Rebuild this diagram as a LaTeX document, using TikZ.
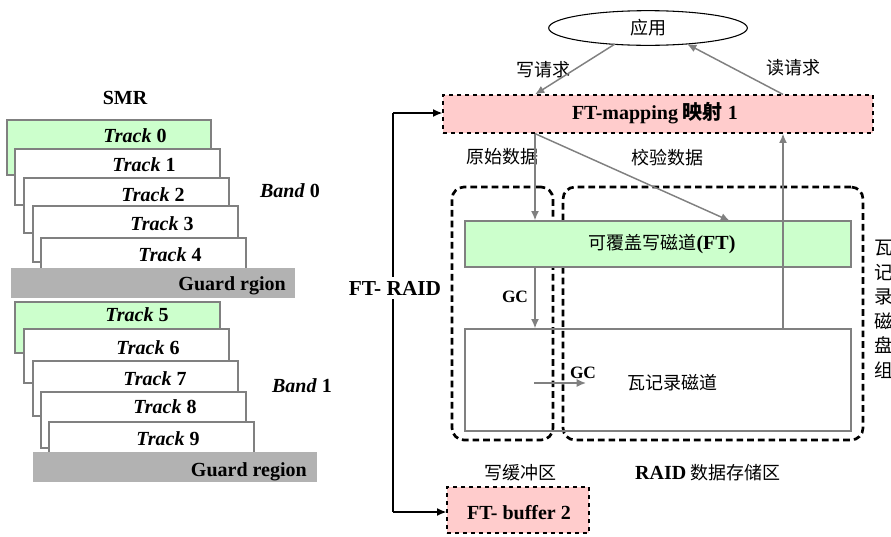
\documentclass[tikz,border=0pt]{standalone}
\usepackage{fontspec}
\setmainfont{Liberation Serif}
\newfontfamily\cjk{Noto Sans CJK SC}
\usetikzlibrary{arrows.meta,fit,shapes.geometric,calc}
\definecolor{tgreen}{HTML}{CCFFCC}
\definecolor{tpink}{HTML}{FFCCCC}
\definecolor{guardgray}{HTML}{B2B2B2}
\definecolor{lgray}{HTML}{808080}
\newcommand{\zh}[1]{{\cjk #1}}
\begin{document}
\begin{tikzpicture}[x=0.75pt,y=-0.75pt,
  trackbox/.style={draw=lgray,line width=1pt,fill=white,inner sep=0pt},
  greenbox/.style={trackbox,fill=tgreen},
  guardbox/.style={fill=guardgray,inner sep=0pt},
  lat/.style={font=\fontsize{15}{17}\selectfont\bfseries},
  tracktxt/.style={font=\fontsize{15}{17}\selectfont\bfseries,inner sep=0pt},
  zhtxt/.style={font=\fontsize{13.5}{15}\selectfont\cjk,inner sep=0pt},
  pinkbox/.style={draw=black,dashed,line width=0.9pt,fill=tpink,inner sep=0pt},
  zonebox/.style={draw=black,line width=2pt,dash pattern=on 5pt off 3pt,rounded corners=9pt,inner sep=0pt},
  garrow/.style={draw=lgray,line width=1.1pt,-{Latex[length=7pt,width=6pt]}},
  barrow/.style={draw=black,line width=1.1pt,-{Latex[length=7pt,width=6pt]}},
]
\useasboundingbox (0,0) rectangle (891,536);

% ---------------- SMR, band 0
\node[lat] (smr) at (125,98) {SMR};
\node[greenbox,fit={(7,120)(211,175)}] (t0) {};
\node[trackbox,fit={(15,149)(220,205)}] (t1) {};
\node[trackbox,fit={(24,178)(229,233)}] (t2) {};
\node[trackbox,fit={(33,206)(238,262)}] (t3) {};
\node[trackbox,fit={(41,238)(246,280)}] (t4) {};
\node[guardbox,fit={(11,268)(295,298)}] (g0) {};
\node[tracktxt] (l0) at (135,136) {\textit{Track} 0};
\node[tracktxt] (l1) at (144,165) {\textit{Track} 1};
\node[tracktxt] (l2) at (153,195) {\textit{Track} 2};
\node[tracktxt] (l3) at (162,224) {\textit{Track} 3};
\node[tracktxt] (l4) at (170,255) {\textit{Track} 4};
\node[tracktxt,anchor=east] (lg0) at (286,286) {Guard rgion};
\node[tracktxt] (b0) at (290,191) {\textit{Band} 0};

% ---------------- band 1
\node[greenbox,fit={(15,302)(220,353)}] (t5) {};
\node[trackbox,fit={(24,329)(229,383)}] (t6) {};
\node[trackbox,fit={(33,361)(238,416)}] (t7) {};
\node[trackbox,fit={(41,392)(246,448)}] (t8) {};
\node[trackbox,fit={(49,422)(254,462)}] (t9) {};
\node[guardbox,fit={(33,452)(317,482)}] (g1) {};
\node[tracktxt] (l5) at (137,315) {\textit{Track} 5};
\node[tracktxt] (l6) at (148,348) {\textit{Track} 6};
\node[tracktxt] (l7) at (155,379) {\textit{Track} 7};
\node[tracktxt] (l8) at (165,407) {\textit{Track} 8};
\node[tracktxt] (l9) at (168,439) {\textit{Track} 9};
\node[tracktxt,anchor=east] (lg1) at (307,472) {Guard region};
\node[tracktxt] (b1) at (302,386) {\textit{Band} 1};

% ---------------- right part
\node[draw=black,line width=0.8pt,ellipse,minimum width=149pt,minimum height=26pt,inner sep=0pt,zhtxt] (app) at (648,28) {应用};
\node[pinkbox,fit={(443,95)(873,133)}] (map) {};
\node[inner sep=0pt,font=\fontsize{15}{17}\selectfont\bfseries] (maptxt) at (655,113) {FT-mapping \zh{映射} 1};

\node[zonebox,fit={(452,187)(553,440)}] (wz) {};
\node[zonebox,fit={(563,187)(863,440)}] (rz) {};

\node[draw=lgray,line width=1pt,fill=tgreen,fit={(465,221)(851,267)},inner sep=0pt] (ft) {};
\node[zhtxt] (fttxt) at (662,244) {可覆盖写磁道\textbf{\rmfamily\fontsize{15}{17}\selectfont(FT)}};
\node[draw=lgray,line width=1pt,fill=none,fit={(465,329)(851,431)},inner sep=0pt] (sh) {};
\node[zhtxt] (shtxt) at (672,383) {瓦记录磁道};

\node[pinkbox,fit={(447,487)(589,533)}] (buf) {};
\node[tracktxt] (buftxt) at (519,513) {FT- buffer 2};

% labels
\node[zhtxt] (wreq) at (543,70) {写请求};
\node[zhtxt] (rreq) at (793,68) {读请求};
\node[zhtxt] (orig) at (502,157) {原始数据};
\node[zhtxt] (chk) at (667,158) {校验数据};
\node[tracktxt,font=\fontsize{13}{15}\selectfont\bfseries] (gc1) at (515,297) {GC};
\node[tracktxt,font=\fontsize{13}{15}\selectfont\bfseries] (gc2) at (583,373) {GC};
\node[zhtxt] (wbuf) at (520,473) {写缓冲区};
\node[inner sep=0pt,font=\fontsize{13.5}{15}\selectfont] (raid) at (708,473) {\textbf{\fontsize{15}{17}\selectfont RAID} \zh{数据存储区}};
\node[tracktxt,font=\fontsize{16}{18}\selectfont\bfseries] (ftraid) at (395,288) {FT- RAID};
\node[inner sep=0pt,align=left,anchor=north west,font=\fontsize{14}{18.4}\selectfont\cjk] (side) at (874,240) {瓦\\记\\录\\磁\\盘\\组};

% connectors
\coordinate (c1) at (535,133);
\coordinate (a1) at (615,44);
\coordinate (a2) at (687,44);
\coordinate (c2) at (783,133);
\coordinate (c3) at (730,221);
\draw[garrow] (a1) -- (map.north -| c1);
\draw[garrow] (map.north -| c2) -- (a2);
\draw[garrow] (map.south -| c1) -- (ft.north -| c1);
\draw[garrow] (map.south -| c1) -- (c3);
\draw[garrow] (ft.south -| c1) -- (sh.north -| c1);
\draw[garrow] (sh.north -| c2) -- (map.south -| c2);
\coordinate (gs) at (534,383);
\coordinate (ge) at (586,383);
\draw[garrow] (gs) -- (ge);

\coordinate (k1) at (393,113);
\coordinate (k2) at (393,512);
\draw[line width=1.1pt] (k1) -- ($(ftraid.north -| k1)+(0,-4)$);
\draw[line width=1.1pt] ($(ftraid.south -| k1)+(0,4)$) -- (k2);
\draw[barrow] (k1) -- (map.west |- k1);
\draw[barrow] (k2) -- (buf.west |- k2);
\end{tikzpicture}
\end{document}
